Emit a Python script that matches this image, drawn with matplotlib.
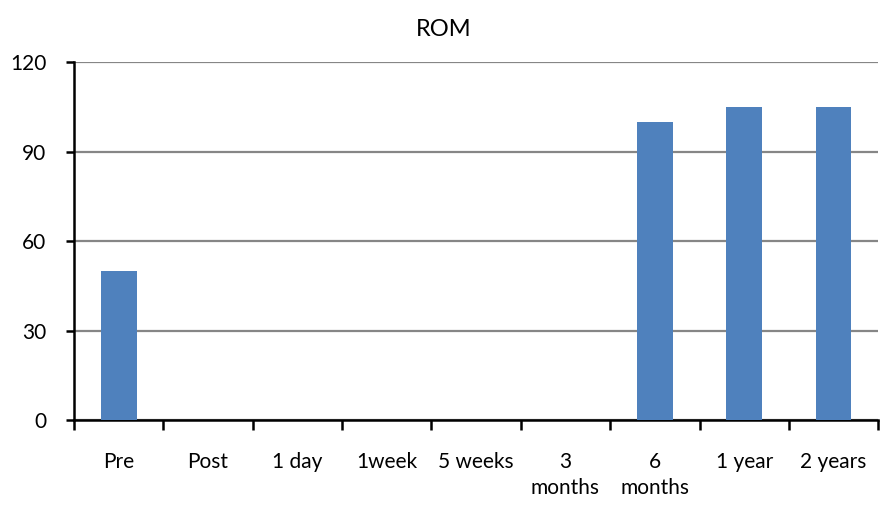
import matplotlib.pyplot as plt
import numpy as np

categories = ['Pre', 'Post', '1 day', '1week', '5 weeks', '3\nmonths', '6\nmonths', '1 year', '2 years']
rom = [50, 0, 0, 0, 0, 0, 100, 105, 105]
yticks = [0, 30, 60, 90, 120]

plt.rcParams['font.family'] = ['Lato', 'DejaVu Sans']

fig = plt.figure(figsize=(8.88, 5.08), dpi=100)
ax = fig.add_axes([0.0833, 0.173, 0.9057, 0.705])

x = np.arange(len(categories))
ax.bar(x, rom, width=0.4, color='#4F81BD', zorder=3)

ax.set_xlim(-0.5, len(categories) - 0.5)
ax.set_ylim(0, 120)
ax.set_yticks(yticks)
ax.yaxis.grid(True, color='#868686', linewidth=1.6, zorder=0)

ax.set_xticks(x)
ax.set_xticklabels(categories, fontsize=15, linespacing=1.35, va='top')
ax.set_xticks(np.arange(-0.5, len(categories)), minor=True)
ax.tick_params(axis='x', which='major', length=0, pad=23)
ax.tick_params(axis='x', which='minor', length=7, width=1.8, direction='out')
ax.tick_params(axis='y', labelsize=15, length=6, width=1.8, direction='out', pad=14)

for side in ['top', 'right']:
    ax.spines[side].set_visible(False)
for side in ['left', 'bottom']:
    ax.spines[side].set_linewidth(1.8)

fig.suptitle('ROM', fontsize=17, y=0.962)

fig.savefig('out.png', dpi=100)
